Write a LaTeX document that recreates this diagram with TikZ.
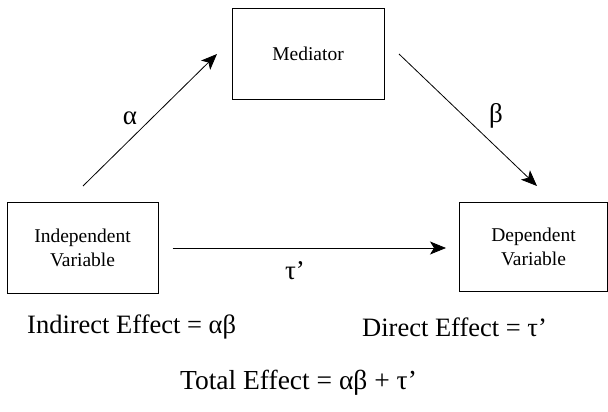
\documentclass[tikz,border=0pt]{standalone}
\usepackage{fontspec}
\setmainfont{Liberation Serif}
\usetikzlibrary{arrows.meta}
\tikzset{
  varbox/.style={draw, line width=0.8pt, align=center, inner sep=0pt,
    font=\rmfamily\fontsize{19.5}{24}\selectfont},
  effarrow/.style={line width=0.8pt, -{Stealth[length=16pt,width=13pt,inset=4pt]}},
  greek/.style={font=\rmfamily\fontsize{27}{30}\selectfont, inner sep=0pt},
  eqtext/.style={font=\rmfamily\fontsize{26.5}{30}\selectfont, inner sep=0pt}
}
\begin{document}
\begin{tikzpicture}[x=1pt,y=-1pt]
\useasboundingbox (0,0) rectangle (608,412);
\fill[white] (0,0) rectangle (608,412);
\node[varbox, minimum width=152pt, minimum height=91pt] (med) at (308,53.5) {Mediator};
\node[varbox, minimum width=151pt, minimum height=91pt] (ind) at (82.5,247.5) {Independent\\Variable};
\node[varbox, minimum width=148pt, minimum height=89pt] (dep) at (533.5,246.5) {Dependent\\Variable};
\coordinate (a1) at (83,186);
\coordinate (a2) at (217,54);
\coordinate (b1) at (399,54);
\coordinate (b2) at (537,186);
\coordinate (t1) at (172.5,248);
\coordinate (t2) at (446,248);
\draw[effarrow] (a1) -- (a2);
\draw[effarrow] (b1) -- (b2);
\draw[effarrow] (t1) -- (t2);
\node[greek] (alpha) at (130,118) {α};
\node[greek] (beta) at (496,116) {β};
\node[greek] (tau) at (295,271) {τ’};
\node[eqtext, anchor=west] (indirect) at (27,327) {Indirect Effect = αβ};
\node[eqtext, anchor=west] (direct) at (362,327) {Direct Effect = τ’};
\node[eqtext, font=\rmfamily\fontsize{27.5}{30}\selectfont] (total) at (298.5,383) {Total Effect = αβ + τ’};
\end{tikzpicture}
\end{document}
